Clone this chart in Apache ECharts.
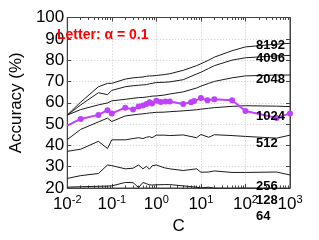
<!DOCTYPE html>
<html><head><meta charset="utf-8">
<script src="https://cdn.jsdelivr.net/npm/echarts@6/dist/echarts.min.js"></script>
<style>html,body{margin:0;padding:0;background:#fff}#c{width:319px;height:240px}</style>
</head><body><div id="c"></div>
<script>
// C values (x) for the sampled purple series
var purpleC = [0.01, 0.02, 0.05, 0.08, 0.1, 0.2, 0.3, 0.4, 0.5, 0.6, 0.7, 0.8, 1, 1.25, 1.6, 2, 4, 6, 7, 10, 14, 20, 50, 100, 500, 1000];
var purpleAcc = [49.3, 52.4, 54.3, 56.5, 55.0, 57.7, 56.8, 58.2, 58.7, 59.4, 60.2, 59.7, 60.9, 60.3, 60.6, 60.6, 59.4, 60.2, 60.8, 62.2, 61.2, 61.6, 61.2, 56.1, 52.9, 55.0];

// C values (x) for the black curves
var blackC = [0.01, 0.02, 0.05, 0.08, 0.1, 0.2, 0.3, 0.4, 0.5, 0.6, 0.7, 0.8, 1, 1.5, 2, 4, 8, 10, 15, 20, 50, 100, 500, 1000];
var acc8192 = [54.2, 60.3, 67.5, 69.1, 69.1, 71.1, 71.7, 71.9, 72.1, 72.4, 72.6, 72.6, 72.8, 73.2, 73.6, 75.2, 77.4, 78.3, 80.0, 81.4, 84.4, 86.2, 87.5, 87.9];
var acc4096 = [54.2, 59.0, 64.7, 63.8, 65.8, 67.5, 68.0, 68.2, 68.4, 68.5, 68.9, 69.1, 69.5, 69.6, 69.8, 70.8, 73.5, 74.3, 76.1, 77.4, 80.0, 81.1, 82.0, 82.2];
var acc2048 = [54.2, 56.8, 59.0, 59.9, 60.9, 61.6, 62.1, 62.4, 62.5, 62.7, 62.9, 63.1, 63.2, 63.6, 64.1, 65.1, 66.9, 67.8, 69.1, 70.0, 71.7, 72.6, 73.0, 73.0];
var acc1024 = [42.7, 47.5, 51.0, 52.8, 51.2, 53.8, 54.3, 54.6, 54.8, 55.0, 55.2, 55.3, 55.5, 55.6, 55.8, 56.2, 56.7, 57.0, 57.4, 57.7, 58.3, 58.6, 58.4, 58.2];
var acc512  = [37.2, 38.2, 41.9, 38.5, 42.6, 42.6, 43.2, 43.6, 43.2, 43.8, 44.1, 43.6, 44.8, 44.8, 44.6, 44.9, 43.6, 45.1, 43.8, 45.0, 44.6, 44.2, 43.4, 44.8];
var acc256  = [24.5, 25.8, 26.8, 30.8, 30.5, 29.0, 29.3, 30.8, 29.0, 30.2, 28.8, 30.4, 30.8, 29.5, 29.0, 28.2, 29.0, 27.4, 27.5, 28.0, 27.3, 27.3, 27.5, 26.1];
var acc128  = [20.4, 20.6, 20.8, 20.9, 21.0, 22.6, 22.5, 20.2, 22.6, 22.0, 21.5, 21.4, 21.5, 21.6, 21.6, 21.0, 20.4, 20.0, 20.4, 19.9, 19.8, 19.9, 19.8, 19.7];
var acc64   = [15.0, 15.2, 15.5, 15.8, 16.0, 16.2, 16.3, 16.4, 16.4, 16.5, 16.5, 16.5, 16.6, 16.6, 16.6, 16.6, 16.5, 16.5, 16.4, 16.4, 16.3, 16.2, 16.0, 15.8];

var curveNames = ['8192', '4096', '2048', '1024', '512', '256', '128', '64'];
var curveData = [acc8192, acc4096, acc2048, acc1024, acc512, acc256, acc128, acc64];

var xTickValues = [0.01, 0.1, 1, 10, 100, 1000];
var xTickExps = ['-2', '-1', '0', '1', '2', '3'];
var yTicks = [20, 30, 40, 50, 60, 70, 80, 90, 100];
var minorMult = [2, 3, 4, 5, 6, 7, 8, 9];
var minorDecades = [0.01, 0.1, 1, 10, 100];

var minorVals = [];
minorDecades.forEach(function (d) { minorMult.forEach(function (m) { minorVals.push(+(d * m).toPrecision(3)); }); });

function pairs(xs, ys) { return xs.map(function (x, i) { return [x, ys[i]]; }); }

var FONT = '"Liberation Sans", Arial, Helvetica, sans-serif';
var series = curveNames.map(function (n, k) {
  return {
    name: n, type: 'line', xAxisIndex: 0, yAxisIndex: 0,
    data: pairs(blackC, curveData[k]),
    showSymbol: false, symbol: 'none', clip: true, silent: true,
    lineStyle: { color: '#1a1a1a', width: 1 }, z: 2
  };
});
var pdata = pairs(purpleC, purpleAcc).map(function (p, i) {
  return i === 0 ? { value: p, symbol: 'none' } : { value: p };
});
series.push({
  name: 'sampled', type: 'line', xAxisIndex: 0, yAxisIndex: 0,
  data: pdata, symbol: 'circle', symbolSize: 6, showSymbol: true, clip: false,
  lineStyle: { color: '#bf40ff', width: 2 }, itemStyle: { color: '#bf40ff' }, z: 5
});

var labelPos = [
  ['8192', 46], ['4096', 59], ['2048', 80], ['1024', 117], ['512', 144], ['256', 187], ['128', 201], ['64', 217]
];
var graphics = labelPos.map(function (l) {
  return { type: 'text', left: 256, top: l[1] - 7, z: 10,
    style: { text: l[0], font: 'bold 13px ' + FONT, fill: '#000' } };
});
graphics.push({ type: 'text', left: 57, top: 28, z: 10,
  style: { text: 'Letter: \u03b1 = 0.1', font: 'bold 14px ' + FONT, fill: '#ff0000' } });

var baseX = {
  type: 'log', logBase: 10, min: 0.01, max: 1000, gridIndex: 0
};
var option = {
  animation: false,
  grid: { left: 48, right: 29, top: 17.5, bottom: 40, show: true, borderColor: '#444', borderWidth: 1, backgroundColor: 'transparent' },
  graphic: graphics,
  xAxis: [
    Object.assign({}, baseX, {
      position: 'bottom', name: 'C', nameLocation: 'middle', nameGap: 30,
      nameTextStyle: { fontFamily: FONT, fontSize: 17, color: '#000' },
      axisLine: { show: true, lineStyle: { color: '#444' } },
      axisTick: { show: true, inside: true, length: 4, lineStyle: { color: '#444' } },
      splitLine: { show: true, lineStyle: { color: '#c8c8c8', type: [1, 2] } },
      axisLabel: {
        margin: 6, color: '#000', fontFamily: FONT, fontSize: 17,
        formatter: function (v) {
          var i = xTickValues.findIndex(function (t) { return Math.abs(Math.log10(t) - Math.log10(v)) < 1e-6; });
          return i < 0 ? '' : '10{s|' + xTickExps[i] + '}';
        },
        rich: { s: { fontSize: 11, fontFamily: FONT, color: '#000', verticalAlign: 'top', padding: [0, 0, 10, 0] } }
      }
    }),
    Object.assign({}, baseX, {
      position: 'top', axisLabel: { show: false }, splitLine: { show: false },
      axisLine: { show: true, lineStyle: { color: '#444' } },
      axisTick: { show: true, inside: true, length: 4, lineStyle: { color: '#444' } }
    }),
    Object.assign({}, baseX, {
      position: 'bottom', axisLabel: { show: false }, splitLine: { show: false },
      axisLine: { show: false },
      axisTick: { show: true, inside: true, length: 2.5, customValues: minorVals, lineStyle: { color: '#444' } }
    }),
    Object.assign({}, baseX, {
      position: 'top', axisLabel: { show: false }, splitLine: { show: false },
      axisLine: { show: false },
      axisTick: { show: true, inside: true, length: 2.5, customValues: minorVals, lineStyle: { color: '#444' } }
    })
  ],
  yAxis: [
    {
      type: 'value', min: 20, max: 100, interval: 10, position: 'left',
      name: 'Accuracy (%)', nameLocation: 'middle', nameGap: 36,
      nameTextStyle: { fontFamily: FONT, fontSize: 17, color: '#000' },
      axisLine: { show: true, lineStyle: { color: '#444' } },
      axisTick: { show: true, inside: true, length: 4, lineStyle: { color: '#444' } },
      splitLine: { show: true, lineStyle: { color: '#c8c8c8', type: [1, 2] } },
      axisLabel: { margin: 3, color: '#000', fontFamily: FONT, fontSize: 17 }
    },
    {
      type: 'value', min: 20, max: 100, interval: 10, position: 'right',
      axisLine: { show: true, lineStyle: { color: '#444' } },
      axisTick: { show: true, inside: true, length: 4, lineStyle: { color: '#444' } },
      splitLine: { show: false }, axisLabel: { show: false }
    }
  ],
  series: series
};
var chart = echarts.init(document.getElementById('c'), null, { renderer: 'canvas' });
chart.setOption(option);
</script></body></html>
